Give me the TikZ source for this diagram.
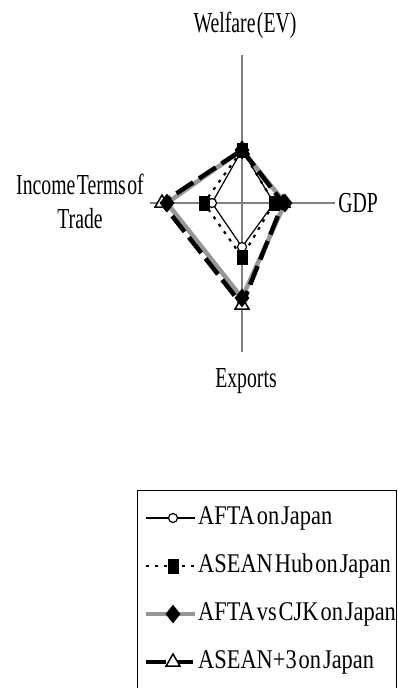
\documentclass[tikz,border=0pt]{standalone}
\usepackage{fontspec}
\setmainfont{Liberation Serif}
\newfontfamily\labfont{Liberation Serif}[FakeStretch=0.68, WordSpace=0.3]
\newfontfamily\legfont{Liberation Serif}[FakeStretch=0.83, WordSpace=0.35]
\usetikzlibrary{shapes.geometric}
\definecolor{axisgray}{RGB}{128,128,128}
\definecolor{cjkgray}{RGB}{150,150,150}
\tikzset{
  axisline/.style={draw=axisgray, line width=1.2pt},
  lab/.style={font=\labfont\fontsize{29}{34}\selectfont, inner sep=0pt},
  legtext/.style={font=\legfont\fontsize{27}{30}\selectfont, inner sep=0pt},
  afta/.style={draw=black, line width=1.2pt},
  hub/.style={draw=black, line width=2.2pt, dash pattern=on 3pt off 6pt},
  cjk/.style={draw=cjkgray, line width=4.5pt},
  plus/.style={draw=black, line width=4.5pt, dash pattern=on 20pt off 7pt},
  circmark/.style={circle, draw=black, fill=white, line width=1.2pt, minimum size=9pt, inner sep=0pt},
  sqmark/.style={rectangle, fill=black, minimum width=11pt, minimum height=15pt, inner sep=0pt},
  diamark/.style={diamond, fill=black, minimum width=15pt, minimum height=19pt, inner sep=0pt},
  trimark/.style={isosceles triangle, isosceles triangle apex angle=60, shape border rotate=90, draw=black, fill=white, line width=1.5pt, minimum width=11pt, minimum height=12pt, inner sep=0pt},
}
\begin{document}
\begin{tikzpicture}[x=1pt, y=-1pt]
\useasboundingbox (0,0) rectangle (398,688);
% axes
\coordinate (axT) at (242,55);
\coordinate (axB) at (242,352);
\coordinate (axL) at (150,203);
\coordinate (axR) at (335,203);
\draw[axisline] (axT) -- (axB);
\draw[axisline] (axL) -- (axR);
% labels
\node[lab] (lw) at (245,25) {Welfare (EV)};
\node[lab] (lg) at (358,203) {GDP};
\node[lab] (le) at (246,381) {Exports};
\node[lab, align=center] (li) at (80,201) {Income Terms of\\Trade};
% series points
\coordinate (a1) at (242,150); \coordinate (a2) at (274,203); \coordinate (a3) at (242,247); \coordinate (a4) at (212,203);
\coordinate (b1) at (242,150); \coordinate (b2) at (274,203); \coordinate (b3) at (242,257); \coordinate (b4) at (204,203);
\coordinate (c1) at (242,150); \coordinate (c2) at (285,203); \coordinate (c3) at (242,298); \coordinate (c4) at (167,203);
\coordinate (d1) at (242,150); \coordinate (d2) at (283,203); \coordinate (d3) at (242,305); \coordinate (d4) at (162,203);
% lines
\draw[afta] (a1) -- (a2) -- (a3) -- (a4) -- cycle;
\draw[hub] (b1) -- (b2) -- (b3) -- (b4) -- cycle;
\draw[cjk, line join=round] (c1) -- (c2) -- (c3) -- (c4) -- cycle;
\draw[plus] (d1) -- (d2) -- (d3) -- (d4) -- cycle;
% markers
\foreach \p in {d1,d2,d3,d4} \node[trimark] (m\p) at (\p) {};
\foreach \p in {a1,a2,a3,a4} \node[circmark] (m\p) at (\p) {};
\foreach \p in {b1,b2,b3,b4} \node[sqmark] (m\p) at (\p) {};
\foreach \p in {c1,c2,c3,c4} \node[diamark] (m\p) at (\p) {};
% legend
\node[draw=black, line width=0.8pt, minimum width=259pt, minimum height=198pt, inner sep=0pt, anchor=north west] (legend) at (137,490) {};
\foreach \y/\st/\mk/\txt [count=\i] in {518/afta/circmark/AFTA on Japan, 566/hub/sqmark/ASEAN Hub on Japan, 614/cjk/diamark/AFTA vs CJK on Japan, 662/plus/trimark/ASEAN+3 on Japan}{
  \coordinate (ls\i) at (146,\y);
  \coordinate (le\i) at (195,\y);
  \draw[\st, dash phase=0pt] (ls\i) -- (le\i);
  \node[\mk] (lm\i) at (173,\y) {};
  \node[legtext, anchor=west] (lt\i) at (198,\y) {\txt};
}
\end{tikzpicture}
\end{document}
